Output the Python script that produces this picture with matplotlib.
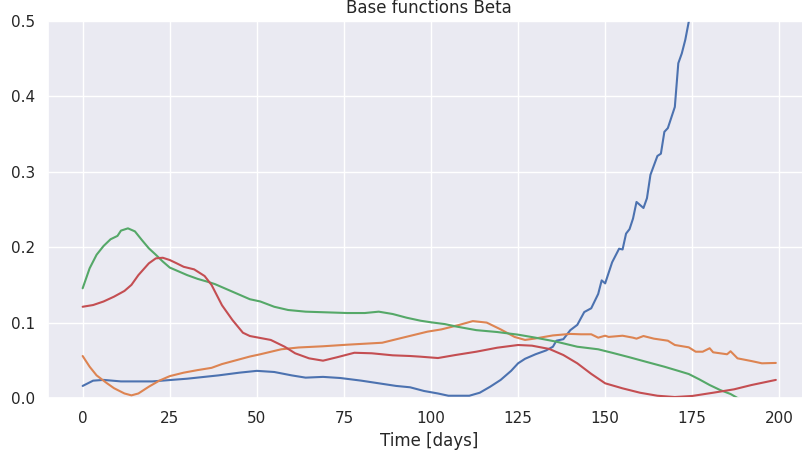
import matplotlib
matplotlib.use("Agg")
import matplotlib.pyplot as plt
import seaborn as sns

sns.set_theme()
plt.rcParams['font.family'] = ['DejaVu Sans']

blue_days = [0, 3, 6, 11, 20, 30, 39, 45, 50, 55, 60, 64, 69, 74, 80, 85, 90, 94, 98, 102, 105,
             108, 111, 114, 117, 120, 123, 125, 127, 130, 133, 135, 136, 138, 140, 142, 144, 146,
             148, 149, 150, 152, 154, 155, 156, 157, 158, 159, 161, 162, 163, 165, 166, 167, 168,
             170, 171, 172, 173, 174, 175, 178, 185, 199]
blue_vals = [0.016, 0.023, 0.024, 0.022, 0.022, 0.0256, 0.030, 0.0336, 0.036, 0.0345, 0.030, 0.027,
             0.028, 0.0265, 0.023, 0.0195, 0.016, 0.0142, 0.0093, 0.006, 0.003, 0.003, 0.003, 0.007,
             0.015, 0.024, 0.036, 0.046, 0.052, 0.058, 0.063, 0.068, 0.076, 0.078, 0.090, 0.097,
             0.114, 0.119, 0.138, 0.156, 0.152, 0.180, 0.198, 0.197, 0.218, 0.224, 0.238, 0.260,
             0.252, 0.265, 0.296, 0.321, 0.324, 0.353, 0.358, 0.386, 0.444, 0.457, 0.475, 0.499,
             0.53, 0.60, 0.75, 1.05]

orange_days = [0, 2, 4, 7, 9, 12, 14, 16, 19, 22, 25, 29, 33, 37, 40, 44, 48, 51, 57, 62, 69, 76,
               81, 86, 91, 95, 99, 103, 108, 112, 116, 120, 124, 127, 130, 135, 140, 143, 146, 148,
               150, 151, 155, 158, 159, 161, 164, 168, 170, 174, 176, 178, 180, 181, 185, 186, 188,
               192, 195, 199]
orange_vals = [0.0557, 0.0415, 0.030, 0.0195, 0.013, 0.006, 0.0035, 0.006, 0.015, 0.023, 0.029,
               0.0336, 0.037, 0.040, 0.045, 0.050, 0.055, 0.058, 0.0646, 0.067, 0.0686, 0.0707,
               0.072, 0.0733, 0.079, 0.0835, 0.088, 0.091, 0.0968, 0.102, 0.100, 0.091, 0.081,
               0.077, 0.079, 0.083, 0.085, 0.0845, 0.0845, 0.080, 0.0826, 0.081, 0.0826, 0.080,
               0.0787, 0.0822, 0.0787, 0.076, 0.0703, 0.0672, 0.0614, 0.0614, 0.066, 0.0606,
               0.058, 0.062, 0.0526, 0.049, 0.046, 0.0465]

green_days = [0, 2, 4, 6, 8, 10, 11, 13, 15, 17, 19, 21, 23, 25, 27, 30, 33, 36, 38, 42, 46, 48,
              51, 55, 59, 64, 70, 76, 81, 85, 89, 93, 97, 100, 104, 107, 113, 119, 125, 130, 136,
              142, 148, 152, 157, 162, 167, 171, 174, 177, 180, 183, 186, 188, 192, 199]
green_vals = [0.1455, 0.172, 0.190, 0.2016, 0.2105, 0.215, 0.222, 0.225, 0.221, 0.2095, 0.1985,
              0.190, 0.181, 0.173, 0.169, 0.163, 0.158, 0.154, 0.151, 0.143, 0.135, 0.131, 0.128,
              0.121, 0.1167, 0.1145, 0.1136, 0.1127, 0.1127, 0.1145, 0.1114, 0.1065, 0.1025,
              0.1004, 0.098, 0.095, 0.090, 0.0875, 0.084, 0.080, 0.0747, 0.068, 0.0646, 0.060,
              0.054, 0.0477, 0.0415, 0.036, 0.0318, 0.0248, 0.0172, 0.0106, 0.0053, 0.0,
              -0.008, -0.02]

red_days = [0, 3, 6, 9, 12, 14, 16, 19, 21, 23, 25, 27, 29, 32, 35, 37, 40, 43, 46, 48, 54, 58,
            61, 65, 69, 73, 78, 83, 89, 94, 97, 102, 107, 113, 119, 125, 129, 134, 138, 142, 146,
            150, 155, 160, 165, 170, 175, 181, 187, 192, 199]
red_vals = [0.121, 0.1233, 0.128, 0.1344, 0.142, 0.150, 0.163, 0.1786, 0.1852, 0.186, 0.183,
            0.1786, 0.174, 0.1706, 0.1618, 0.150, 0.123, 0.1034, 0.0866, 0.0822, 0.077, 0.068,
            0.0593, 0.0526, 0.0495, 0.054, 0.060, 0.0593, 0.0566, 0.0557, 0.0548, 0.053, 0.057,
            0.0614, 0.0667, 0.0703, 0.0694, 0.065, 0.057, 0.046, 0.032, 0.0195, 0.0128, 0.007,
            0.003, 0.0013, 0.0027, 0.007, 0.0115, 0.0172, 0.024]

title = "Base functions Beta"
xlabel = "Time [days]"

fig = plt.figure(figsize=(8.02, 4.59), dpi=100)
ax = fig.add_axes([48 / 802, 61 / 459, 762.5 / 802, 377 / 459])

ax.plot(blue_days, blue_vals, color="#4C72B0")
ax.plot(orange_days, orange_vals, color="#DD8452")
ax.plot(green_days, green_vals, color="#55A868")
ax.plot(red_days, red_vals, color="#C44E52")

ax.set_xlim(-9.95, 208.95)
ax.set_ylim(0, 0.5)
ax.set_xticks([0, 25, 50, 75, 100, 125, 150, 175, 200])
ax.set_yticks([0.0, 0.1, 0.2, 0.3, 0.4, 0.5])
ax.set_title(title)
ax.set_xlabel(xlabel)

fig.savefig("out.png", dpi=100)
